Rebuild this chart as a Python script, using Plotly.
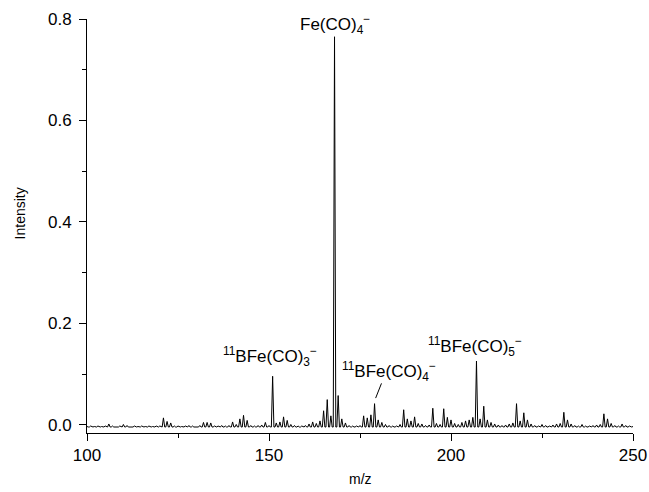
import plotly.graph_objects as go

# m/z positions (integer masses) and read peak intensities
mz = list(range(100, 251))
intensity = [
    -0.003, -0.002, -0.003, -0.002, -0.003, -0.002, 0.002, -0.002, -0.003, -0.002,   # 100-109
    0.001, -0.001, -0.003, -0.002, -0.003, -0.002, -0.003, -0.002, -0.003, -0.002,   # 110-119
    -0.002, 0.014, 0.007, 0.004, -0.002, -0.002, -0.003, -0.002, -0.001, -0.002,     # 120-129
    -0.003, -0.001, 0.005, 0.005, 0.004, -0.002, -0.002, -0.001, -0.002, -0.001,     # 130-139
    0.006, 0.001, 0.012, 0.019, 0.009, -0.001, -0.002, -0.001, 0.000, 0.005,         # 140-149
    -0.001, 0.096, 0.004, 0.006, 0.016, 0.009, 0.001, -0.001, -0.002, -0.002,        # 150-159
    -0.001, 0.002, 0.006, 0.003, 0.008, 0.028, 0.050, 0.018, 0.765, 0.058,           # 160-169
    0.012, 0.004, -0.001, -0.002, -0.002, -0.001, 0.018, 0.014, 0.020, 0.042,        # 170-179
    0.010, 0.005, 0.001, -0.001, -0.002, -0.002, 0.001, 0.030, 0.012, 0.008,         # 180-189
    0.016, 0.003, 0.002, -0.001, 0.000, 0.033, 0.003, 0.001, 0.032, 0.015,           # 190-199
    0.010, 0.003, 0.001, 0.005, 0.008, 0.010, 0.015, 0.126, 0.012, 0.037,            # 200-209
    0.010, 0.005, 0.002, 0.000, -0.001, 0.000, 0.002, 0.004, 0.042, 0.008,           # 210-219
    0.024, 0.010, 0.002, -0.001, -0.002, 0.001, -0.001, -0.002, 0.000, 0.002,        # 220-229
    0.003, 0.025, 0.010, 0.002, -0.001, -0.002, 0.001, -0.002, -0.002, -0.001,       # 230-239
    0.000, 0.001, 0.022, 0.012, 0.003, -0.001, -0.002, 0.002, -0.001, -0.002,        # 240-249
    -0.003,                                                                           # 250
]
baseline = -0.004
half_width = 0.35

# Peak labels
label_text = [
    "Fe(CO)<sub>4</sub><sup>−</sup>",
    "<sup>11</sup>BFe(CO)<sub>3</sub><sup>−</sup>",
    "<sup>11</sup>BFe(CO)<sub>4</sub><sup>−</sup>",
    "<sup>11</sup>BFe(CO)<sub>5</sub><sup>−</sup>",
]
label_x = [168.0, 150.3, 183.0, 206.7]
label_y = [0.789, 0.134, 0.105, 0.154]

# Build the profile (narrow peak at each mass)
xs, ys = [], []
for m, h in zip(mz, intensity):
    xs += [m - half_width, m, m + half_width]
    ys += [baseline, h, baseline]

fig = go.Figure()
fig.add_trace(go.Scatter(x=xs, y=ys, mode="lines",
                         line=dict(color="black", width=1),
                         hoverinfo="skip", showlegend=False))

font_main = "Liberation Sans, Arial, Helvetica, sans-serif"

for t, x, y in zip(label_text, label_x, label_y):
    fig.add_annotation(x=x, y=y, xref="x", yref="y", text=t, showarrow=False,
                       font=dict(family=font_main, size=17, color="black"),
                       xanchor="center", yanchor="middle")

# leader line for the 11BFe(CO)4- label
fig.add_shape(type="line", xref="x", yref="y",
              x0=180.9, y0=0.082, x1=179.3, y1=0.053,
              line=dict(color="black", width=1))

# axis titles
fig.add_annotation(x=-0.123, y=0.53, xref="paper", yref="paper", text="Intensity",
                   textangle=-90, showarrow=False,
                   font=dict(family=font_main, size=14, color="black"),
                   xanchor="center", yanchor="middle")
fig.add_annotation(x=0.5, y=-0.11, xref="paper", yref="paper", text="m/z",
                   showarrow=False,
                   font=dict(family=font_main, size=14, color="black"),
                   xanchor="center", yanchor="middle")

fig.update_layout(
    width=649, height=492,
    margin=dict(l=87, r=16, t=19, b=59, autoexpand=False),
    paper_bgcolor="white", plot_bgcolor="white",
    showlegend=False,
    font=dict(family=font_main, size=17, color="black"),
)
fig.update_xaxes(range=[100, 250], tickvals=[100, 150, 200, 250],
                 showline=True, linecolor="black", linewidth=1,
                 ticks="outside", ticklen=7, tickcolor="black", tickwidth=1,
                 showgrid=False, zeroline=False, mirror=False, automargin=False,
                 tickfont=dict(size=17),
                 minor=dict(dtick=25, tick0=100, ticks="outside", ticklen=4,
                            tickcolor="black", showgrid=False))
fig.update_yaxes(range=[-0.0158, 0.8], tickvals=[0.0, 0.2, 0.4, 0.6, 0.8],
                 ticktext=["0.0", "0.2", "0.4", "0.6", "0.8"],
                 showline=True, linecolor="black", linewidth=1,
                 ticks="outside", ticklen=7, tickcolor="black", tickwidth=1,
                 showgrid=False, zeroline=False, mirror=False, automargin=False,
                 tickfont=dict(size=17), ticklabelstandoff=4,
                 minor=dict(dtick=0.1, tick0=0, ticks="outside", ticklen=4,
                            tickcolor="black", showgrid=False))

fig.write_html("out.html", config={"displayModeBar": False},
               post_script="document.body.style.margin='0';document.body.style.overflow='hidden';")
